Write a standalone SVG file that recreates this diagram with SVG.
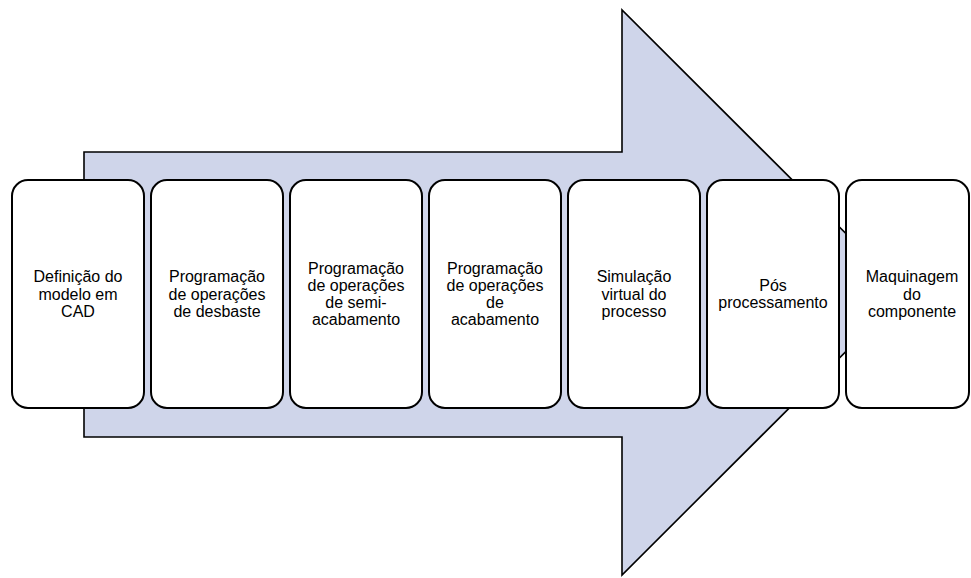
<svg xmlns="http://www.w3.org/2000/svg" width="971" height="578" viewBox="0 0 971 578">
<style>
.box{fill:#ffffff;stroke:#000000;stroke-width:2}
.lbl{font-family:"Liberation Sans",Arial,sans-serif;font-size:16px;fill:#000000;text-anchor:middle}
.arrow{fill:#cfd5ea;stroke:#000000;stroke-width:1.6;stroke-linejoin:miter}
</style>
<rect width="971" height="578" fill="#ffffff"/>
<g id="connectors">
<path class="arrow" d="M84,152 H622 V10 L905,292.5 L622,575 V437 H84 Z"/>
</g>
<g id="n1">
<rect class="box" x="12" y="180" width="132" height="228" rx="16"/>
<text class="lbl" x="78" y="282">Definição do</text>
<text class="lbl" x="78" y="299.5">modelo em</text>
<text class="lbl" x="78" y="317">CAD</text>
</g>
<g id="n2">
<rect class="box" x="151" y="180" width="132" height="228" rx="16"/>
<text class="lbl" x="217" y="282">Programação</text>
<text class="lbl" x="217" y="299.5">de operações</text>
<text class="lbl" x="217" y="317">de desbaste</text>
</g>
<g id="n3">
<rect class="box" x="290" y="180" width="132" height="228" rx="16"/>
<text class="lbl" x="356" y="274">Programação</text>
<text class="lbl" x="356" y="291">de operações</text>
<text class="lbl" x="356" y="308">de semi-</text>
<text class="lbl" x="356" y="325">acabamento</text>
</g>
<g id="n4">
<rect class="box" x="429" y="180" width="132" height="228" rx="16"/>
<text class="lbl" x="495" y="274">Programação</text>
<text class="lbl" x="495" y="291">de operações</text>
<text class="lbl" x="495" y="308">de</text>
<text class="lbl" x="495" y="325">acabamento</text>
</g>
<g id="n5">
<rect class="box" x="568" y="180" width="132" height="228" rx="16"/>
<text class="lbl" x="634" y="282">Simulação</text>
<text class="lbl" x="634" y="299.5">virtual do</text>
<text class="lbl" x="634" y="317">processo</text>
</g>
<g id="n6">
<rect class="box" x="707" y="180" width="132" height="228" rx="16"/>
<text class="lbl" x="773" y="290.5">Pós</text>
<text class="lbl" x="773" y="308">processamento</text>
</g>
<g id="n7">
<rect class="box" x="846" y="180" width="123" height="228" rx="16"/>
<text class="lbl" x="912" y="282">Maquinagem</text>
<text class="lbl" x="912" y="299.5">do</text>
<text class="lbl" x="912" y="317">componente</text>
</g>
</svg>
